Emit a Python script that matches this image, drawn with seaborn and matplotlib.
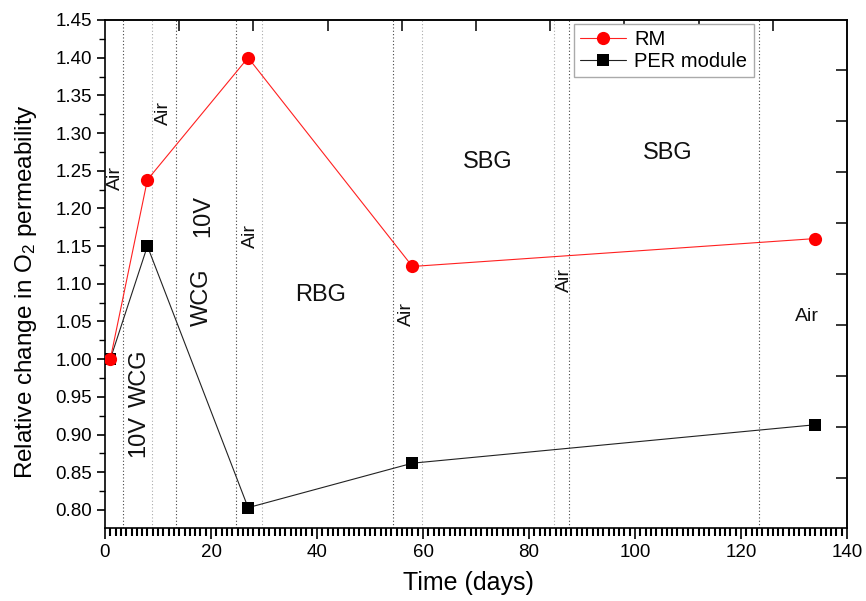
import matplotlib
matplotlib.use("Agg")
import matplotlib.pyplot as plt
import seaborn as sns
import pandas as pd
import numpy as np
from matplotlib.ticker import MultipleLocator, NullFormatter, FormatStrFormatter

# ---------------- data ----------------
days = [1, 8, 27, 58, 134]
rm_values = [1.000, 1.238, 1.400, 1.123, 1.160]
per_values = [1.000, 1.150, 0.803, 0.862, 0.913]

# phase boundaries (days)
boundaries_dark = [3.45, 13.4, 24.7, 54.3, 87.6, 123.4]
boundaries_light = [8.8, 29.7, 59.8, 84.8]

# phase annotations: text, day, value, rotation
ann_text = ["Air", "Air", "10V", "WCG", "Air", "RBG", "Air", "SBG", "Air", "SBG", "Air", "10V", "WCG"]
ann_x = [1.9, 11.1, 18.5, 18.3, 27.4, 40.6, 56.9, 72.3, 86.6, 106.2, 132.4, 6.2, 6.6]
ann_y = [1.241, 1.327, 1.190, 1.082, 1.163, 1.085, 1.060, 1.262, 1.105, 1.274, 1.057, 0.898, 0.975]
ann_rot = [90, 90, 90, 90, 90, 0, 90, 0, 90, 0, 0, 90, 90]

# secondary (top / right) tick positions
top_ticks = [14, 28, 42, 56, 70, 84, 98, 112, 126]
right_ticks = [1.383, 1.3155, 1.248, 1.1806, 1.1129, 1.0456, 0.9778, 0.9105, 0.842]

df_rm = pd.DataFrame({"Time (days)": days, "value": rm_values})
df_per = pd.DataFrame({"Time (days)": days, "value": per_values})

sns.set_theme(style="ticks")
plt.rcParams["font.family"] = ["Liberation Sans", "DejaVu Sans"]
plt.rcParams["mathtext.fontset"] = "custom"
plt.rcParams["mathtext.rm"] = "Liberation Sans"
plt.rcParams["mathtext.it"] = "Liberation Sans:italic"
plt.rcParams["text.color"] = "black"
plt.rcParams["axes.labelcolor"] = "black"
plt.rcParams["xtick.color"] = "black"
plt.rcParams["ytick.color"] = "black"

fig = plt.figure(figsize=(8.66, 6.01), dpi=100)
ax = fig.add_axes([105 / 866, 1 - 528 / 601, 742 / 866, 508 / 601])

for xv in boundaries_dark:
    ax.axvline(xv, color="#444444", linestyle=(0, (1, 2)), linewidth=0.8, zorder=1)
for xv in boundaries_light:
    ax.axvline(xv, color="#aaaaaa", linestyle=(0, (1, 2)), linewidth=0.8, zorder=1)

sns.lineplot(data=df_per, x="Time (days)", y="value", ax=ax, color="#222222",
             linewidth=0.8, marker="s", markersize=8, markeredgewidth=0,
             markerfacecolor="black", label="PER module", zorder=3)
sns.lineplot(data=df_rm, x="Time (days)", y="value", ax=ax, color="#ff2020",
             linewidth=0.8, marker="o", markersize=9.5, markeredgewidth=0,
             markerfacecolor="red", label="RM", zorder=4)

for t, xv, yv, r in zip(ann_text, ann_x, ann_y, ann_rot):
    fs = 14 if t == "Air" else 17
    ax.text(xv, yv, t, rotation=r, ha="center", va="center", fontsize=fs, color="#111111", zorder=2)

ax.set_xlim(0, 140)
ax.set_ylim(0.776, 1.45)
ax.set_xlabel("Time (days)", fontsize=18)
ax.set_ylabel("Relative change in O$_2$ permeability", fontsize=17.5)
ax.xaxis.set_label_coords(0.49, -0.085)
ax.yaxis.set_label_coords(-0.089, 0.465)

for s in ax.spines.values():
    s.set_visible(True)
    s.set_linewidth(1.2)
    s.set_color("black")

top = ax.secondary_xaxis("top")
top.set_xticks(top_ticks)
top.set_xticks([], minor=True)
top.xaxis.set_major_formatter(NullFormatter())
top.tick_params(which="major", direction="in", length=8, width=1.1)
top.spines["top"].set_linewidth(1.2)

right = ax.secondary_yaxis("right")
right.set_yticks(right_ticks)
right.set_yticks([], minor=True)
right.yaxis.set_major_formatter(NullFormatter())
right.tick_params(which="major", direction="in", length=8, width=1.1)
right.spines["right"].set_linewidth(1.2)

ax.minorticks_on()
ax.xaxis.set_major_locator(MultipleLocator(20))
ax.xaxis.set_minor_locator(MultipleLocator(1))
ax.yaxis.set_major_locator(MultipleLocator(0.05))
ax.yaxis.set_minor_locator(MultipleLocator(0.025))
ax.yaxis.set_major_formatter(FormatStrFormatter("%.2f"))
ax.xaxis.set_ticks_position("bottom")
ax.yaxis.set_ticks_position("left")
ax.tick_params(axis="both", which="major", direction="out", length=8, width=1.2,
               labelsize=13.5, colors="black")
ax.tick_params(axis="y", which="major", length=6)
ax.xaxis.set_tick_params(which="minor", direction="out", length=5.5, width=1.5, color="#000000")
ax.yaxis.set_tick_params(which="minor", direction="out", length=4, width=1.0, color="#000000")

handles, labels = ax.get_legend_handles_labels()
order = [labels.index("RM"), labels.index("PER module")]
leg = ax.legend([handles[i] for i in order], [labels[i] for i in order],
                loc="upper right", bbox_to_anchor=(0.874, 0.992), borderaxespad=0,
                fontsize=14.5, frameon=True, fancybox=False, framealpha=1,
                edgecolor="#aaaaaa", handlelength=2.3, handletextpad=0.4,
                labelspacing=0.15, borderpad=0.3)
leg.get_frame().set_linewidth(1.0)

fig.savefig("out.png", dpi=100)
